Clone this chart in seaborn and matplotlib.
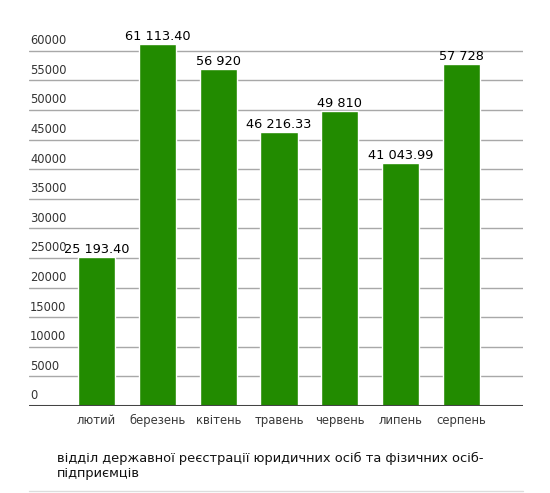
import matplotlib
matplotlib.use("Agg")
from matplotlib import pyplot as plt
import seaborn as sns
import pandas as pd

months = ["лютий", "березень", "квітень", "травень", "червень", "липень", "серпень"]
amounts = [25193.40, 61113.40, 56920, 46216.33, 49810, 41043.99, 57728]
amount_labels = ["25 193.40", "61 113.40", "56 920", "46 216.33", "49 810", "41 043.99", "57 728"]
y_ticks = list(range(0, 60001, 5000))
caption = "відділ державної реєстрації юридичних осіб та фізичних осіб-\nпідприємців"

sns.set_theme(style="white")
plt.rcParams["font.family"] = ["DejaVu Sans"]

df = pd.DataFrame({"month": months, "amount": amounts})

fig = plt.figure(figsize=(5.5, 4.93), dpi=100)
ax = fig.add_axes([29 / 550, (493 - 406) / 493, (523 - 29) / 550, (406 - 21.2) / 493])

sns.barplot(data=df, x="month", y="amount", color="#228b00", saturation=1,
            width=0.61, ax=ax, zorder=3)

ax.set_xlim(-1.11, 7.01)
ax.set_ylim(0, 65000)

# grid lines with labels sitting above them, left aligned
for t in y_ticks[1:]:
    ax.axhline(t, color="#a8a8a8", lw=1, zorder=1)
for t in y_ticks:
    ax.text(0.002, t + 600, str(t), transform=ax.get_yaxis_transform(),
            ha="left", va="bottom", fontsize=8.3, color="#333333")
ax.axhline(0, color="#444444", lw=2.2, zorder=4)

for i, (v, lab) in enumerate(zip(amounts, amount_labels)):
    ax.text(i, v + 200, lab, ha="center", va="bottom", fontsize=9.3, color="#000000", zorder=5)

ax.set_yticks([])
ax.set_xlabel("")
ax.set_ylabel("")
ax.tick_params(axis="x", length=0, pad=6, labelsize=8.4, labelcolor="#3a3a3a")
for s in ax.spines.values():
    s.set_visible(False)

fig.text(57 / 550, 1 - 452 / 493, caption, ha="left", va="top", fontsize=9.35,
         color="#111111", linespacing=1.2)
fig.add_artist(plt.Line2D([29 / 550, 523 / 550], [1 - 491 / 493] * 2,
                          color="#dddddd", lw=1))

fig.savefig("out.png", dpi=100)
